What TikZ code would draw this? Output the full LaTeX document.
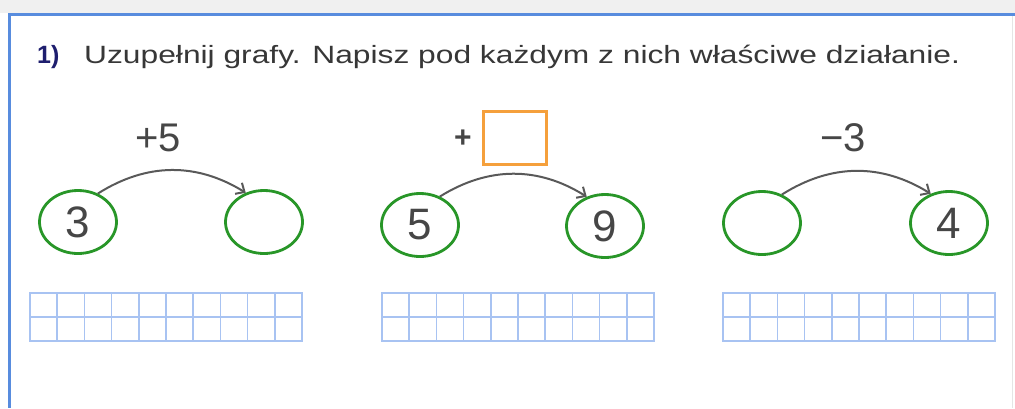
\documentclass[tikz,border=0pt]{standalone}
\usepackage{fontspec}
\setmainfont{Liberation Sans}
\usetikzlibrary{shapes.geometric,arrows.meta}
\definecolor{frameblue}{RGB}{88,140,222}
\definecolor{ringgreen}{RGB}{40,150,40}
\definecolor{boxorange}{RGB}{245,160,60}
\definecolor{cellblue}{RGB}{168,195,242}
\definecolor{numgray}{RGB}{70,70,70}
\definecolor{titlegray}{RGB}{55,55,55}
\definecolor{navy}{RGB}{30,30,110}

\begin{document}
\begin{tikzpicture}[x=1pt,y=-1pt,
  ring/.style={ellipse,draw=ringgreen,line width=2.8pt,minimum width=77pt,
    minimum height=63pt,inner sep=0pt,text=numgray,font=\fontsize{44}{44}\selectfont},
  opnum/.style={text=numgray,font=\fontsize{40}{40}\selectfont},
  jump/.style={draw=numgray!90,line width=2pt,bend left=32,
    -{Straight Barb[length=7pt,width=13pt]}},
  gridline/.style={draw=cellblue,line width=1.5pt}]
\useasboundingbox (0,0) rectangle (1015,408);
% page frame
\fill[black!6] (0,0) rectangle (1015,12.5);
\draw[frameblue,line width=3pt] (9.5,14.5)--(1015,14.5);
\draw[frameblue,line width=3pt] (9.5,13)--(9.5,408);
\draw[black!10,line width=1pt] (1012,16)--(1012,408);
% task
\node[anchor=base west,inner sep=0pt,text=navy] (nr) at (37,63)
  {\fontsize{25}{25}\selectfont\bfseries 1)};
\node[anchor=base west,inner sep=0pt,text=titlegray] (task) at (84,63)
  {\scalebox{1.27}[1]{\fontsize{25}{25}\selectfont Uzupełnij grafy. Napisz pod każdym z nich właściwe działanie.}};
% first graph
\node[ring] (a1) at (78,222) {3};
\node[ring] (a2) at (264,222) {};
\node[opnum] (op1) at (158,138) {+5};
\draw[jump] (a1.55) to (a2.122);
% second graph
\node[ring] (b1) at (420,225) {5};
\node[ring] (b2) at (605,226) {9};
\node[opnum,font=\fontsize{30}{30}\selectfont\bfseries] (op2) at (463,139) {+};
\node[draw=boxorange,line width=3pt,minimum width=63pt,minimum height=53pt,
  inner sep=0pt] (gap) at (514.5,137.5) {};
\draw[jump] (b1.55) to (b2.122);
% third graph
\node[ring] (c1) at (762,223) {};
\node[ring] (c2) at (949,223) {4};
\node[opnum] (op3) at (843,138) {−3};
\draw[jump] (c1.55) to (c2.122);
% answer grids
\foreach \gx in {30,382,723}{
  \draw[gridline] (\gx,293) rectangle ++(272,48);
  \draw[gridline] (\gx,317) -- ++(272,0);
  \foreach \i in {1,...,9}
    \draw[gridline] (\gx+27.2*\i,293) -- ++(0,48);
}
\end{tikzpicture}
\end{document}
